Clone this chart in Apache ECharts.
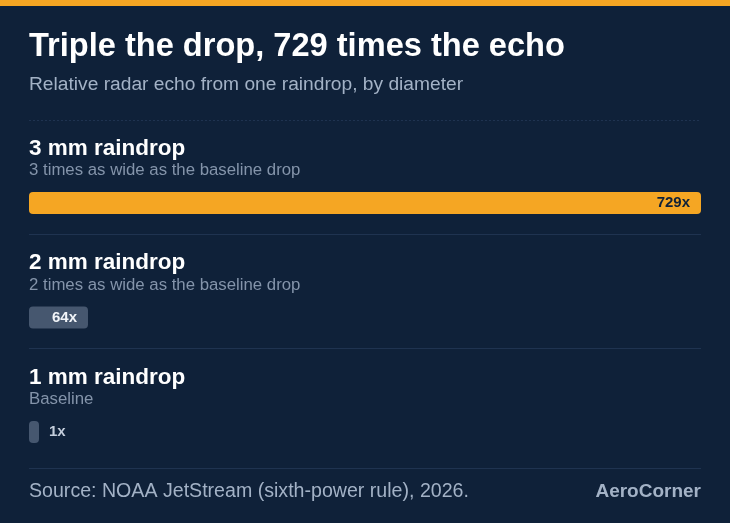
<!DOCTYPE html>
<html><head><meta charset="utf-8">
<script src="https://cdn.jsdelivr.net/npm/echarts@6/dist/echarts.min.js"></script>
<style>html,body{margin:0;padding:0;background:#0f2139;}#c{width:730px;height:523px;}</style>
</head><body><div id="c"></div>
<script>
const titleText = 'Triple the drop, 729 times the echo';
const subtitleText = 'Relative radar echo from one raindrop, by diameter';
const categories = ['3 mm raindrop', '2 mm raindrop', '1 mm raindrop'];
const descriptions = ['3 times as wide as the baseline drop', '2 times as wide as the baseline drop', 'Baseline'];
const values = [729, 64, 1];
const valueLabels = ['729x', '64x', '1x'];
const sourceText = 'Source: NOAA JetStream (sixth-power rule), 2026.';
const brandText = 'AeroCorner';

const FONT = '"Liberation Sans", Arial, Helvetica, sans-serif';
const BG = '#0f2139';
const ORANGE = '#f5a623';
const SLATE = '#46576f';
const LEFT = 29, RIGHT = 701;
const rowTop = [120, 234.5, 349];
const maxVal = Math.max(...values);

const grids = [], xAxes = [], yAxes = [], series = [], graphics = [];

graphics.push({type:'rect', shape:{x:0,y:0,width:730,height:6}, style:{fill:ORANGE}});
graphics.push({type:'text', x:LEFT, y:47.5, style:{text:titleText, font:'bold 32.6px '+FONT, fill:'#ffffff', textVerticalAlign:'middle'}});
graphics.push({type:'text', x:LEFT, y:85, style:{text:subtitleText, font:'19.2px '+FONT, fill:'#a3b2c6', textVerticalAlign:'middle'}});

const seps = [120, 234, 348, 468];
seps.forEach((y, i) => {
  graphics.push({type:'line', shape:{x1:LEFT, y1:y+0.5, x2:RIGHT, y2:y+0.5}, style:{stroke:'#1f3350', lineWidth:1, lineDash: i===0 ? [2,2] : null}});
});

categories.forEach((cat, i) => {
  const t = rowTop[i];
  graphics.push({type:'text', x:LEFT, y:t+28.5, style:{text:cat, font:'bold 22.5px '+FONT, fill:'#ffffff', textVerticalAlign:'middle'}});
  graphics.push({type:'text', x:LEFT, y:t+50.5, style:{text:descriptions[i], font:'16.8px '+FONT, fill:'#8494aa', textVerticalAlign:'middle'}});
  grids.push({left:LEFT, width:RIGHT-LEFT, top:t+72, height:22, containLabel:false});
  xAxes.push({type:'value', gridIndex:i, min:0, max:maxVal, show:false});
  yAxes.push({type:'category', gridIndex:i, data:[cat], show:false});
  const big = i === 0;
  const inside = values[i] >= 30;
  series.push({
    type:'bar', xAxisIndex:i, yAxisIndex:i, data:[values[i]], barWidth:22, barMinHeight:10,
    itemStyle:{color: big ? ORANGE : SLATE, borderRadius:4},
    label:{show:true, formatter: valueLabels[i],
      position: inside ? 'insideRight' : 'right', distance: inside ? 11 : 10,
      color: big ? BG : (inside ? '#f2f5f9' : '#c3cddb'),
      fontFamily:FONT, fontWeight:'bold', fontSize:15},
    animation:false, silent:true
  });
});

graphics.push({type:'text', x:LEFT, y:492, style:{text:sourceText, font:'19.6px '+FONT, fill:'#a3b2c6', textVerticalAlign:'middle'}});
graphics.push({type:'text', x:RIGHT, y:492, style:{text:brandText, font:'bold 19px '+FONT, fill:'#a3b2c6', textVerticalAlign:'middle', textAlign:'right'}});

const chart = echarts.init(document.getElementById('c'), null, {renderer:'canvas'});
chart.setOption({
  backgroundColor: BG,
  animation:false,
  grid: grids, xAxis: xAxes, yAxis: yAxes, series: series,
  graphic: graphics
});
</script></body></html>
